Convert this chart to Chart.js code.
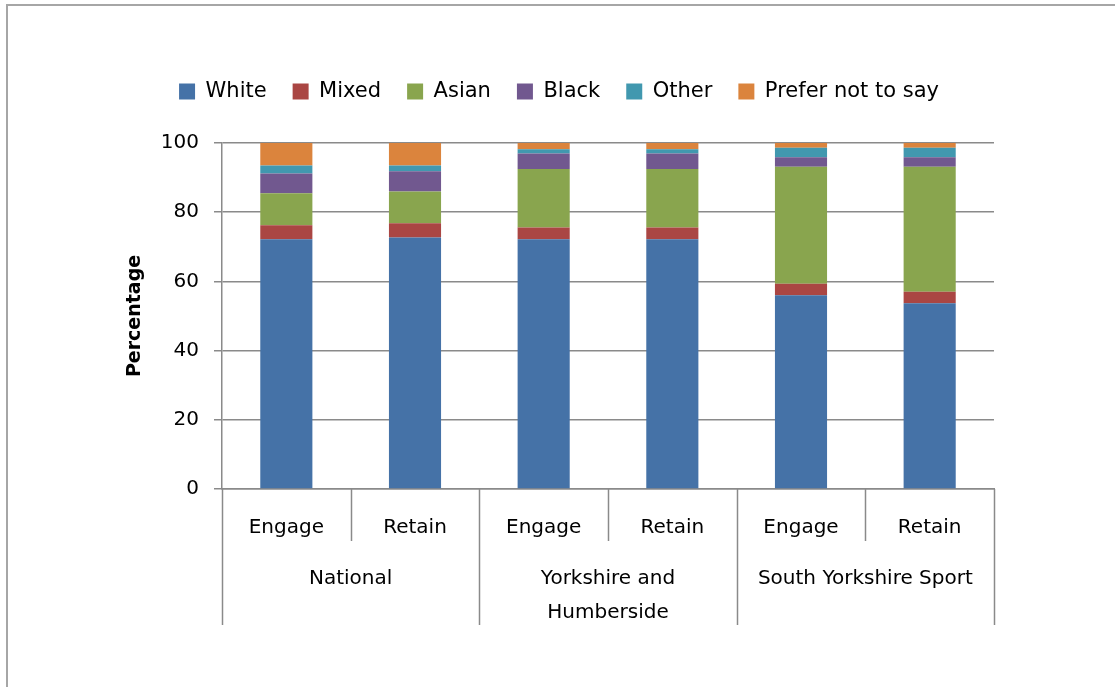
<!DOCTYPE html>
<html>
<head>
<meta charset="utf-8">
<title>Ethnicity of participants</title>
<script src="https://cdn.jsdelivr.net/npm/chart.js@4.4.1/dist/chart.umd.min.js"></script>
<style>
  html, body { margin: 0; padding: 0; background: #ffffff; }
  #wrap { position: relative; width: 1115px; height: 687px; }
  canvas { display: block; }
</style>
</head>
<body>
<div id="wrap"><canvas id="chart" width="1115" height="687"></canvas></div>
<script>
// Categories: two measures inside each of three areas
const categories = ['Engage', 'Retain', 'Engage', 'Retain', 'Engage', 'Retain'];
const groups = [['National'], ['Yorkshire and', 'Humberside'], ['South Yorkshire Sport']];
const yTicks = [0, 20, 40, 60, 80, 100];

// Percentage of participants by ethnic group
const white  = [72.2, 72.7, 72.2, 72.2, 56.0, 53.7];
const mixed  = [4.0, 4.1, 3.4, 3.4, 3.3, 3.3];
const asian  = [9.3, 9.2, 16.9, 16.9, 33.8, 36.1];
const black  = [5.7, 5.8, 4.5, 4.5, 2.8, 2.8];
const other  = [2.3, 1.7, 1.2, 1.2, 2.7, 2.7];
const prefer = [6.5, 6.5, 1.8, 1.8, 1.4, 1.4];

const FONT = "'DejaVu Sans', 'Liberation Sans', sans-serif";
const GRID = '#8a8a8a';

const series = [
  { label: 'White', data: white, color: '#4572A7' },
  { label: 'Mixed', data: mixed, color: '#AA4643' },
  { label: 'Asian', data: asian, color: '#89A54E' },
  { label: 'Black', data: black, color: '#71588F' },
  { label: 'Other', data: other, color: '#4198AF' },
  { label: 'Prefer not to say', data: prefer, color: '#DB843D' }
];

// Outer frame and multi-level category axis below the plot
const frameAndGroups = {
  id: 'frameAndGroups',
  beforeInit(chart) {
    // leave extra room between legend and plot
    const legend = chart.legend;
    if (legend) {
      const fit = legend.fit;
      legend.fit = function () { fit.call(this); this.height += 31; };
    }
  },
  beforeDraw(chart) {
    const ctx = chart.ctx;
    ctx.save();
    ctx.strokeStyle = '#a6a6a6';
    ctx.lineWidth = 2;
    ctx.beginPath();
    ctx.moveTo(7, 700);
    ctx.lineTo(7, 5);
    ctx.lineTo(1120, 5);
    ctx.stroke();
    ctx.restore();
  },
  afterDraw(chart) {
    const ctx = chart.ctx;
    const x = chart.scales.x;
    const y0 = chart.scales.y.getPixelForValue(0);
    const px = i => x.getPixelForValue(i);
    const between = i => (px(i) + px(i + 1)) / 2;
    ctx.save();
    ctx.strokeStyle = GRID;
    ctx.lineWidth = 1.5;
    ctx.beginPath();
    // separators inside each area
    [0, 2, 4].forEach(i => {
      const bx = Math.round(between(i)) + 0.5;
      ctx.moveTo(bx, y0);
      ctx.lineTo(bx, y0 + 52);
    });
    // separators between areas, including both ends
    const edges = [x.left, between(1), between(3), x.right];
    edges.forEach(e => {
      const bx = Math.round(e) + 0.5;
      ctx.moveTo(bx, y0);
      ctx.lineTo(bx, y0 + 136);
    });
    ctx.stroke();

    ctx.fillStyle = '#000000';
    ctx.font = '20px ' + FONT;
    ctx.textAlign = 'center';
    ctx.textBaseline = 'middle';
    groups.forEach((lines, g) => {
      const cx = (edges[g] + edges[g + 1]) / 2;
      lines.forEach((t, k) => ctx.fillText(t, cx, y0 + 90 + k * 34));
    });
    ctx.restore();
  }
};

new Chart(document.getElementById('chart'), {
  type: 'bar',
  data: {
    labels: categories,
    datasets: series.map(s => ({
      label: s.label,
      data: s.data,
      backgroundColor: s.color,
      borderWidth: 0,
      barPercentage: 0.405,
      categoryPercentage: 1.0
    }))
  },
  options: {
    responsive: false,
    animation: false,
    devicePixelRatio: 1,
    layout: { padding: { left: 124, right: 121, top: 55, bottom: 58 } },
    plugins: {
      legend: {
        position: 'top',
        align: 'center',
        labels: {
          boxWidth: 16,
          boxHeight: 16,
          padding: 26,
          color: '#000000',
          font: { family: FONT, size: 21 }
        }
      },
      tooltip: { enabled: false }
    },
    scales: {
      x: {
        stacked: true,
        grid: { display: false, drawTicks: false },
        border: { display: true, color: GRID, width: 1.5 },
        ticks: {
          color: '#000000',
          padding: 27,
          maxRotation: 0,
          font: { family: FONT, size: 20 }
        },
        afterFit(scale) { scale.height = 140; }
      },
      y: {
        stacked: true,
        min: 0,
        max: 100,
        afterBuildTicks(scale) { scale.ticks = yTicks.map(v => ({ value: v })); },
        grid: { color: GRID, lineWidth: 1.5, tickLength: 8, drawTicks: true },
        border: { display: true, color: GRID, width: 1.5 },
        ticks: {
          color: '#000000',
          padding: 15,
          font: { family: FONT, size: 20 }
        },
        title: {
          display: true,
          text: 'Percentage',
          color: '#000000',
          padding: { top: 0, bottom: 0 },
          font: { family: FONT, size: 19, weight: 'bold' }
        },
        afterFit(scale) { scale.width = 98; }
      }
    }
  },
  plugins: [frameAndGroups]
});
</script>
</body>
</html>
